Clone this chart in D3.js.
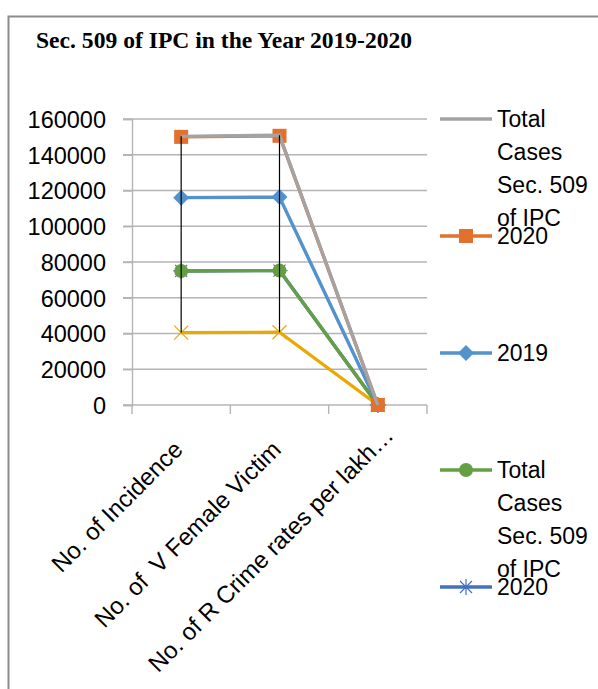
<!DOCTYPE html>
<html>
<head>
<meta charset="utf-8">
<script src="https://cdn.jsdelivr.net/npm/d3@7"></script>
<style>
  body { margin: 0; background: #fff; }
  svg { display: block; }
  text { font-family: "Liberation Sans", Arial, sans-serif; fill: #000; }
</style>
</head>
<body>
<div id="chart"></div>
<script>
const categories = ["No. of Incidence", "No. of  V Female Victim", "No. of R Crime rates per lakh\u2026"];
const yTicks = [0, 20000, 40000, 60000, 80000, 100000, 120000, 140000, 160000];

// series in legend order
const seriesNames = ["Total Cases Sec. 509 of IPC", "2020", "2019", "Total Cases Sec. 509 of IPC", "2020", "2019"];
const legendLines = [["Total", "Cases", "Sec. 509", "of IPC"], ["2020"], ["2019"], ["Total", "Cases", "Sec. 509", "of IPC"], ["2020"], ["2019"]];
const seriesValues = [
  [150300, 150900, 0],
  [150000, 150600, 0],
  [116000, 116300, 0],
  [75000, 75200, 0],
  [75000, 75200, 0],
  [40500, 40700, 0]
];
const seriesColors = ["#a3a3a3", "#e2712e", "#5392cc", "#659f44", "#4470c0", "#e8aa00"];
const seriesMarkers = ["none", "square", "diamond", "circle", "star", "x"];

const width = 598, height = 689;
const svg = d3.select("#chart").append("svg")
  .attr("width", width)
  .attr("height", height);

// chart frame (right and bottom edges lie outside the picture)
svg.append("path")
  .attr("d", `M 8.5 ${height} V 16.5 H ${width}`)
  .attr("fill", "none")
  .attr("stroke", "#8c8c8c")
  .attr("stroke-width", 2);

svg.append("text")
  .attr("x", 36)
  .attr("y", 48)
  .style("font-family", "'Liberation Serif', 'Times New Roman', serif")
  .style("font-weight", "bold")
  .style("font-size", "23.6px")
  .text("Sec. 509 of IPC in the Year 2019-2020");

const x = d3.scaleBand()
  .domain(categories)
  .range([132, 427]);
const y = d3.scaleLinear()
  .domain([0, 160000])
  .range([405, 119]);
const cx = (c) => x(c) + x.bandwidth() / 2;

// gridlines
svg.append("g").selectAll("line")
  .data(yTicks)
  .enter().append("line")
  .attr("x1", 123)
  .attr("x2", 427)
  .attr("y1", (d) => y(d))
  .attr("y2", (d) => y(d))
  .attr("stroke", "#b4b4b4")
  .attr("stroke-width", 1.4);

// y axis
const yAxis = svg.append("g")
  .attr("transform", "translate(132,0)")
  .call(d3.axisLeft(y).tickValues(yTicks).tickSize(9).tickFormat(d3.format("d")));
yAxis.select(".domain").attr("stroke", "#b4b4b4").attr("stroke-width", 1.4);
yAxis.selectAll(".tick line").attr("stroke", "#b4b4b4").attr("stroke-width", 1.4);
yAxis.selectAll(".tick text")
  .attr("x", -26)
  .attr("dy", "0.36em")
  .style("font-family", "'Liberation Sans', Arial, sans-serif")
  .style("font-size", "23.5px")
  .attr("fill", "#000");

// x axis ticks at category boundaries
const bounds = categories.map((c) => x(c)).concat([x.range()[1]]);
svg.append("g").selectAll("line")
  .data(bounds)
  .enter().append("line")
  .attr("x1", (d) => d)
  .attr("x2", (d) => d)
  .attr("y1", 405)
  .attr("y2", 414)
  .attr("stroke", "#b4b4b4")
  .attr("stroke-width", 1.4);

// category labels, rotated
svg.append("g").selectAll("text")
  .data(categories)
  .enter().append("text")
  .attr("text-anchor", "end")
  .attr("transform", (d) => `translate(${cx(d) + 3},451) rotate(-45)`)
  .attr("dx", (d) => d.endsWith("\u2026") ? 20 : 0)
  .style("font-size", "24px")
  .style("white-space", "pre")
  .attr("xml:space", "preserve")
  .text((d) => d);

// markers
function drawMarker(g, type, color, px, py) {
  if (type === "square") {
    g.append("rect").attr("x", px - 7).attr("y", py - 7).attr("width", 14).attr("height", 14)
      .attr("fill", color);
  } else if (type === "diamond") {
    g.append("path").attr("d", `M ${px} ${py - 8} L ${px + 8} ${py} L ${px} ${py + 8} L ${px - 8} ${py} Z`)
      .attr("fill", color);
  } else if (type === "circle") {
    g.append("circle").attr("cx", px).attr("cy", py).attr("r", 7).attr("fill", color);
  } else if (type === "star") {
    const r = 8;
    g.append("path")
      .attr("d", `M ${px - r} ${py} H ${px + r} M ${px} ${py - r} V ${py + r} M ${px - r * 0.75} ${py - r * 0.75} L ${px + r * 0.75} ${py + r * 0.75} M ${px - r * 0.75} ${py + r * 0.75} L ${px + r * 0.75} ${py - r * 0.75}`)
      .attr("stroke", color).attr("stroke-width", 1.2).attr("fill", "none");
  } else if (type === "x") {
    const r = 7;
    g.append("path")
      .attr("d", `M ${px - r} ${py - r} L ${px + r} ${py + r} M ${px - r} ${py + r} L ${px + r} ${py - r}`)
      .attr("stroke", color).attr("stroke-width", 1.2).attr("fill", "none");
  }
}

const line = d3.line()
  .x((d, i) => cx(categories[i]))
  .y((d) => y(d));

// draw later series first so the first series stays on top
const order = d3.range(seriesValues.length).reverse();
const plot = svg.append("g");
order.forEach((s) => {
  const g = plot.append("g");
  g.append("path")
    .attr("d", line(seriesValues[s]))
    .attr("fill", "none")
    .attr("stroke", seriesColors[s])
    .attr("stroke-width", 3.4)
    .attr("stroke-linejoin", "round");
  seriesValues[s].forEach((v, i) => drawMarker(g, seriesMarkers[s], seriesColors[s], cx(categories[i]), y(v)));
});

// high-low lines
svg.append("g").selectAll("line")
  .data(categories)
  .enter().append("line")
  .attr("x1", (d) => cx(d))
  .attr("x2", (d) => cx(d))
  .attr("y1", (d, i) => y(d3.max(seriesValues, (s) => s[i])))
  .attr("y2", (d, i) => y(d3.min(seriesValues, (s) => s[i])))
  .attr("stroke", "#000")
  .attr("stroke-width", 1.2);

// legend: entries that fall below the chart area are clipped off, as in the original
const legend = svg.append("g");
seriesNames.forEach((name, s) => {
  const ly = 119 + s * 117;
  if (ly > height - 20) return;
  const g = legend.append("g");
  g.append("line")
    .attr("x1", 440).attr("x2", 492)
    .attr("y1", ly).attr("y2", ly)
    .attr("stroke", seriesColors[s])
    .attr("stroke-width", 3.4);
  drawMarker(g, seriesMarkers[s], seriesColors[s], 466, ly);
  g.append("text")
    .attr("x", 497)
    .attr("y", ly)
    .style("font-size", "23px")
    .selectAll("tspan")
    .data(legendLines[s])
    .enter().append("tspan")
    .attr("x", 497)
    .attr("y", (d, i) => ly + i * 33)
    .attr("dy", "0.36em")
    .text((d) => d);
});
</script>
</body>
</html>
